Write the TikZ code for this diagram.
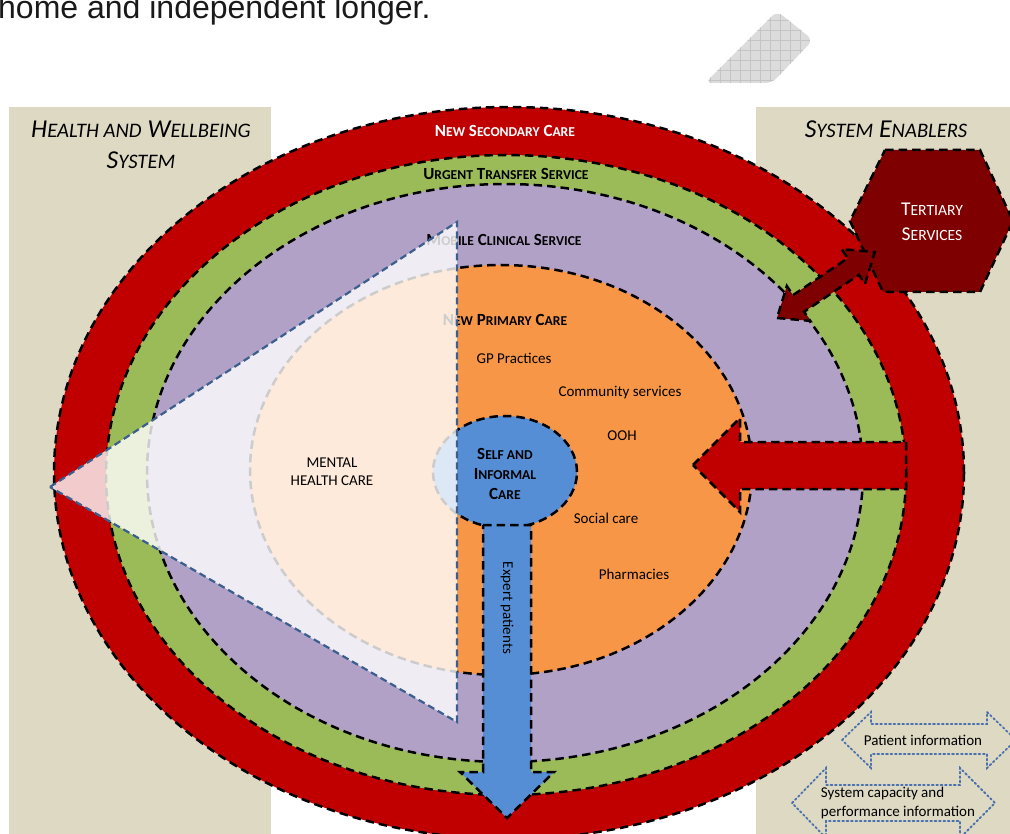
\documentclass[tikz,border=0pt]{standalone}
\usepackage{fontspec}
\setmainfont{Carlito}
\newfontfamily\arialf{Liberation Sans}
\usepackage{graphicx}
\definecolor{beige}{HTML}{DDD9C3}
\definecolor{ringred}{HTML}{C00000}
\definecolor{ringgreen}{HTML}{9BBB59}
\definecolor{ringpurple}{HTML}{B2A1C7}
\definecolor{ringorange}{HTML}{F79646}
\definecolor{selfblue}{HTML}{558ED5}
\definecolor{darkred}{HTML}{7F0000}
\definecolor{triblue}{HTML}{3A5F8E}
\definecolor{infoblue}{HTML}{4A70AE}
\definecolor{shapegray}{HTML}{DCDCDC}
\definecolor{gridgray}{HTML}{C4C4C4}
\newcommand\lsc[1]{\scalebox{0.8}{#1}}
\tikzset{
  blkdash/.style={draw=black, line width=2.5pt, dash pattern=on 8.5pt off 5pt},
  lbl/.style={inner sep=0pt, font=\fontsize{15}{18}\selectfont},
  lblb/.style={inner sep=0pt, font=\bfseries\fontsize{17}{20}\selectfont},
  infoarrow/.style={draw=infoblue, line width=1.8pt, dash pattern=on 1.8pt off 2.6pt, line cap=round},
  tribox/.style={fill=white, fill opacity=0.8, draw=triblue, draw opacity=1, line width=2.2pt, dash pattern=on 7pt off 4pt}
}
\begin{document}
\begin{tikzpicture}[x=1pt,y=-1pt]
\useasboundingbox (0,0) rectangle (1010,834);
\clip (0,0) rectangle (1010,834);
\fill[white] (0,0) rectangle (1010,834);
% side panels
\fill[beige] (9,107) rectangle (271,834);
\fill[beige] (756,107) rectangle (1010,834);
% grey hatched shape at top
\begin{scope}
  \clip[rounded corners=7pt] (705,83) -- (777,11) -- (813,40) -- (772,83) -- cycle;
  \fill[shapegray] (700,0) rectangle (820,90);
  \draw[gridgray, line width=0.8pt, step=10pt] (700,0) grid (820,90);
\end{scope}
% cut-off sentence at top
\node[anchor=base west, inner sep=0pt, font=\arialf\fontsize{32}{32}\selectfont, text=black!90] (toptext) at (-2,19) {home and independent longer.};
% rings
\path[fill=ringred, blkdash] (509,473) ellipse [x radius=455pt, y radius=366pt];
\path[fill=ringgreen, blkdash] (506,475) ellipse [x radius=400pt, y radius=320pt];
\path[fill=ringpurple, blkdash] (505,473) ellipse [x radius=358pt, y radius=289pt];
\node[lblb, text=white] (secondary) at (505,131) {N\lsc{EW} S\lsc{ECONDARY} C\lsc{ARE}};
\node[lblb] (urgent) at (506,174) {U\lsc{RGENT} T\lsc{RANSFER} S\lsc{ERVICE}};
\node[lblb] (mobile) at (504,240) {M\lsc{OBILE} C\lsc{LINICAL} S\lsc{ERVICE}};
% primary care
\path[fill=ringorange, blkdash] (501,470) ellipse [x radius=251pt, y radius=205pt];
\node[lblb] (primary) at (505,320) {N\lsc{EW} P\lsc{RIMARY} C\lsc{ARE}};
\node[lbl] (gp) at (514,358) {GP Practices};
\node[lbl] (community) at (620,393) {Community services};
\node[lbl] (ooh) at (622,436) {OOH};
\node[lbl] (social) at (606,518) {Social care};
\node[lbl] (pharm) at (634,574) {Pharmacies};
% self and informal care
\path[fill=selfblue, blkdash] (505,472) ellipse [x radius=72pt, y radius=56pt];
\path[fill=selfblue, blkdash] (483,525) -- (531,525) -- (531,772) -- (554,772) -- (507,818) -- (460,772) -- (483,772) -- cycle;
\node[lblb, align=center, font=\bfseries\fontsize{17}{20}\selectfont] (self) at (505,474) {S\lsc{ELF AND}\\I\lsc{NFORMAL}\\C\lsc{ARE}};
\node[lbl, rotate=-90] (expert) at (507,608) {Expert patients};
% enabler arrow into primary care
\path[fill=ringred, blkdash] (693,465) -- (740,418) -- (740,442) -- (906,442) -- (906,489) -- (740,489) -- (740,512) -- cycle;
% tertiary services
\path[fill=darkred, blkdash] (885,150) -- (980,150) -- (1013,221) -- (980,292) -- (883,292) -- (850,221) -- cycle;
\begin{scope}[shift={(777,318)}, rotate=34]
  \path[fill=darkred, blkdash] (0,0) -- (26,21) -- (26,10) -- (92,10) -- (92,21) -- (118,0) -- (92,-21) -- (92,-10) -- (26,-10) -- (26,-21) -- cycle;
\end{scope}
\node[lbl, text=white, align=center, font=\fontsize{19.5}{25}\selectfont] (tertiary) at (932,222) {T\lsc{ERTIARY}\\S\lsc{ERVICES}};
% mental health triangle
\path[tribox] (50,487) -- (457,222) -- (457,722) -- cycle;
\node[lbl, align=center] (mental) at (332,472) {MENTAL\\HEALTH CARE};
% panel titles
\node[inner sep=0pt, align=center, font=\itshape\fontsize{25.8}{31}\selectfont] (hwb) at (141,145) {H\lsc{EALTH AND} W\lsc{ELLBEING}\\S\lsc{YSTEM}};
\node[inner sep=0pt, font=\itshape\fontsize{25.8}{31}\selectfont] (enablers) at (886,129) {S\lsc{YSTEM} E\lsc{NABLERS}};
% information arrows
\path[infoarrow] (842,740) -- (871,712) -- (871,724) -- (987,724) -- (987,712) -- (1016,740) -- (987,768) -- (987,754) -- (871,754) -- (871,768) -- cycle;
\node[lbl] (patinfo) at (923,740) {Patient information};
\path[infoarrow] (792,803) -- (826,768) -- (826,785) -- (960,785) -- (960,768) -- (995,803) -- (960,838) -- (960,821) -- (826,821) -- (826,838) -- cycle;
\node[lbl, align=left, font=\fontsize{15}{19}\selectfont] (capinfo) at (898,803) {System capacity and\\performance information};
\end{tikzpicture}
\end{document}
